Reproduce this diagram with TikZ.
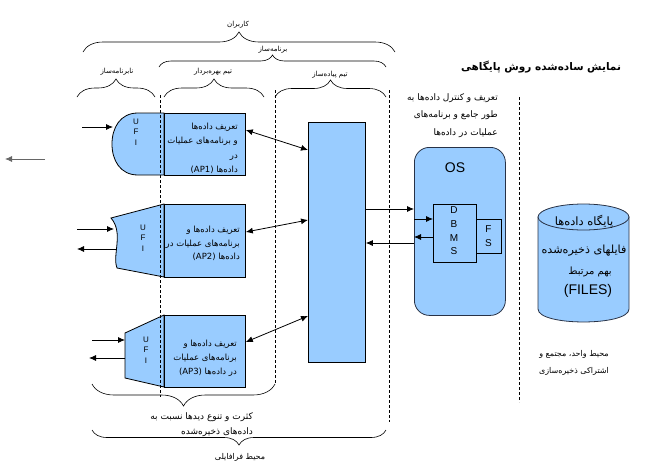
\documentclass[tikz,border=0pt]{standalone}
\usepackage{fontspec}
\setmainfont{Liberation Sans}
\newfontfamily\arabicfont[Script=Arabic]{DejaVu Sans}
\TeXXeTstate=1
\usetikzlibrary{arrows.meta,decorations.pathreplacing,calc}
\newcommand\fa[1]{{\arabicfont\beginR #1\endR}}
\definecolor{boxblue}{RGB}{153,204,255}
\definecolor{osline}{RGB}{40,50,70}
\begin{document}
\begin{tikzpicture}[x=1pt,y=-1pt,
  arr/.style={-{Latex[length=7pt,width=6pt]}, line width=0.8pt},
  darr/.style={{Latex[length=7pt,width=6pt]}-{Latex[length=7pt,width=6pt]}, line width=0.8pt},
  sep/.style={dash pattern=on 3pt off 2pt, line width=0.7pt},
  brc/.style={decorate, decoration={brace, amplitude=#1}, line width=0.6pt},
  lbl/.style={font=\fontsize{7}{8}\selectfont, inner sep=0pt},
  boxshape/.style={draw, fill=boxblue, line width=0.8pt, inner sep=0pt, anchor=north west},
  aptext/.style={font=\fontsize{8.5}{14}\selectfont, align=right, anchor=north east, inner sep=0pt},
  ufitext/.style={font=\fontsize{8}{10.5}\selectfont, align=center, inner sep=0pt}
]
\useasboundingbox (0,0) rectangle (662,472);

% ---------- braces and their labels ----------
\draw[brc=20pt] (83,52) -- (395,52);
\node[lbl] (lusers) at (238,25) {\fa{کاربران}};
\draw[brc=12pt] (159,67) -- (386,67);
\node[lbl] (lprog) at (273,50) {\fa{برنامه‌ساز}};
\draw[brc=18pt] (77,97) -- (155,97);
\node[lbl] (lnonprog) at (117,72) {\fa{نابرنامه‌ساز}};
\draw[brc=18pt] (164,97) -- (264,97);
\node[lbl] (lops) at (213,72) {\fa{تیم بهره‌بردار}};
\draw[brc=17pt] (275,97) -- (386,97);
\node[lbl] (limpl) at (330,75) {\fa{تیم پیاده‌ساز}};

% ---------- title and description ----------
\node[font=\bfseries\fontsize{10.5}{12}\selectfont, inner sep=0pt] (title) at (541,67) {\fa{نمایش ساده‌شده روش پایگاهی}};
\node[font=\fontsize{9}{17.5}\selectfont, align=right, anchor=north east, inner sep=0pt] (desc) at (498,93)
  {\fa{تعریف و کنترل داده‌ها به}\\\fa{طور جامع و برنامه‌های}\\\fa{عملیات در داده‌ها}};

% ---------- UFI shapes ----------
\draw[fill=boxblue, line width=0.8pt] (164,113) -- (138,113) .. controls (120,113) and (112,128) .. (112,144)
  .. controls (112,160) and (120,175) .. (138,175) -- (164,175) -- cycle;
\draw[fill=boxblue, line width=0.8pt] (164,204) -- (111,218) .. controls (124,233) and (112,255) .. (117,268)
  -- (164,277) -- cycle;
\draw[fill=boxblue, line width=0.8pt] (164,315) -- (125,333) -- (125,378) -- (164,387) -- cycle;
\node[ufitext] (ufi1) at (136,132) {U\\F\\I};
\node[ufitext] (ufi2) at (143,238) {U\\F\\I};
\node[ufitext] (ufi3) at (146,350) {U\\F\\I};

% ---------- AP boxes ----------
\node[boxshape, minimum width=81pt, minimum height=62pt] (ap1) at (164,113) {};
\node[boxshape, minimum width=81pt, minimum height=73pt] (ap2) at (164,204) {};
\node[boxshape, minimum width=81pt, minimum height=72pt] (ap3) at (164,315) {};
\node[aptext, font=\fontsize{8.5}{14.3}\selectfont] (ap1t) at (238,123) {\fa{تعریف داده‌ها}\\\fa{و برنامه‌های عملیات}\\\fa{در}\\\fa{داده‌ها \beginL(AP1)\endL{}}};
\node[aptext, font=\fontsize{8.5}{13.5}\selectfont] (ap2t) at (240,226) {\fa{تعریف داده‌ها و}\\\fa{برنامه‌های عملیات در}\\\fa{داده‌ها \beginL(AP2)\endL{}}};
\node[aptext] (ap3t) at (237,340) {\fa{تعریف داده‌ها و}\\\fa{برنامه‌های عملیات}\\\fa{در داده‌ها \beginL(AP3)\endL{}}};

% ---------- hub, OS, DBMS, FS ----------
\node[boxshape, minimum width=57pt, minimum height=240pt] (hub) at (308,122) {};
\node[boxshape, draw=osline, rounded corners=15pt, minimum width=91pt, minimum height=168pt] (os) at (414,147) {};
\node[font=\fontsize{14}{16}\selectfont, inner sep=0pt] (ostext) at (455,168) {OS};
\node[boxshape, minimum width=43pt, minimum height=58pt] (dbms) at (433,204) {};
\node[ufitext, font=\fontsize{10}{13.7}\selectfont] (dbmst) at (454,231) {D\\B\\M\\S};
\node[boxshape, minimum width=25pt, minimum height=34pt] (fs) at (476,219) {};
\node[ufitext, font=\fontsize{10}{14.5}\selectfont] (fst) at (488.5,236) {F\\S};

% ---------- database cylinder ----------
\draw[fill=boxblue, draw=osline, line width=0.8pt] (538,217) -- (538,309) .. controls (538,326.3) and (629,326.3) .. (629,309) -- (629,217) -- cycle;
\draw[fill=boxblue, draw=osline, line width=0.8pt] (583.5,217) ellipse [x radius=45.5, y radius=13];
\node[font=\fontsize{11.5}{13}\selectfont, inner sep=0pt] (dbt1) at (584,222) {\fa{پایگاه داده‌ها}};
\node[font=\fontsize{11.2}{13}\selectfont, inner sep=0pt] (dbt2) at (584,251) {\fa{فایلهای ذخیره‌شده}};
\node[font=\fontsize{10}{12}\selectfont, inner sep=0pt] (dbt3) at (590,272) {\fa{بهم مرتبط}};
\node[font=\fontsize{14}{16}\selectfont, inner sep=0pt] (dbt4) at (588,291) {(FILES)};
\node[font=\fontsize{8}{17}\selectfont, align=center, inner sep=0pt] (envl) at (574,363) {\fa{محیط واحد، مجتمع و}\\\fa{اشتراکی ذخیره‌سازی}};

% ---------- bottom braces ----------
\draw[brc=22pt] (275,384) -- (92,384);
\draw[brc=15pt] (386,430) -- (92,430);
\node[lbl, font=\fontsize{9}{15}\selectfont, align=right, anchor=north east] (views) at (253,412) {\fa{کثرت و تنوع دیدها نسبت به}\\\fa{داده‌های ذخیره‌شده}};
\node[lbl, font=\fontsize{8}{10}\selectfont] (beyond) at (240,457) {\fa{محیط فرافایلی}};

% ---------- connector end points ----------
\coordinate (in1) at (82,127);   \coordinate (u1a) at (113,127);
\coordinate (in2) at (77,229);   \coordinate (u2a) at (114,229);
\coordinate (u2b) at (116,249);  \coordinate (out2) at (77,249);
\coordinate (in3) at (92,340);   \coordinate (u3a) at (125,340);
\coordinate (u3b) at (125,358);  \coordinate (out3) at (89,358);
\coordinate (lfree1) at (45,159); \coordinate (lfree2) at (5,159);
\coordinate (ya) at (0,209); \coordinate (yb) at (0,219);
\coordinate (yc) at (0,237); \coordinate (yd) at (0,243);
\coordinate (y1a) at (0,130); \coordinate (y1b) at (0,150);
\coordinate (y2a) at (0,232); \coordinate (y2b) at (0,220);
\coordinate (y3a) at (0,342); \coordinate (y3b) at (0,316);

% ---------- connectors ----------
\draw[arr] (in1) -- (u1a);
\draw[arr] (in2) -- (u2a);
\draw[arr] (u2b) -- (out2);
\draw[arr] (in3) -- (u3a);
\draw[arr] (u3b) -- (out3);
\draw[arr, draw=black!60] (lfree1) -- (lfree2);
\draw[darr] (ap1.east |- y1a) -- (hub.west |- y1b);
\draw[darr] (ap2.east |- y2a) -- (hub.west |- y2b);
\draw[darr] (ap3.east |- y3a) -- (hub.west |- y3b);
\draw[arr] (hub.east |- ya) -- (os.west |- ya);
\draw[arr] (os.west |- yb) -- (dbms.west |- yb);
\draw[arr] (dbms.west |- yc) -- (os.west |- yc);
\draw[arr] (os.west |- yd) -- (hub.east |- yd);

% ---------- dashed separators ----------
\draw[sep] (160,95) -- (160,397);
\draw[sep] (275,90) -- (275,383);
\draw[sep] (389,90) -- (389,422);
\draw[sep] (519,97) -- (519,402);
\end{tikzpicture}
\end{document}
